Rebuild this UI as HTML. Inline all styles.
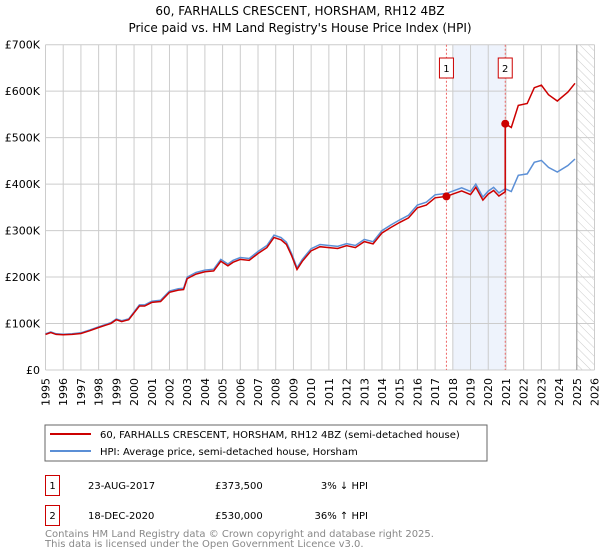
<!DOCTYPE html>
<html><head><meta charset="utf-8"><style>
body{margin:0;background:#fff;font-family:"DejaVu Sans","Liberation Sans",sans-serif;}
svg{display:block}
</style></head><body>
<svg id="c" width="600" height="560" xmlns="http://www.w3.org/2000/svg" font-family="DejaVu Sans, Liberation Sans, sans-serif">
<text x="300" y="15" text-anchor="middle" font-size="12">60, FARHALLS CRESCENT, HORSHAM, RH12 4BZ</text>
<text x="300" y="32" text-anchor="middle" font-size="12">Price paid vs. HM Land Registry's House Price Index (HPI)</text>
<defs><pattern id="hatch" width="6" height="6" patternUnits="userSpaceOnUse" patternTransform="rotate(-45)"><line x1="0" y1="0" x2="0" y2="6" stroke="#ccc" stroke-width="1"/></pattern></defs>
<g id="plot"></g>
<rect x="45" y="425" width="442" height="36" fill="#fff" stroke="#666"/>
<line x1="50" y1="434" x2="91" y2="434" stroke="#cc0000" stroke-width="2"/>
<text x="100" y="438" font-size="10">60, FARHALLS CRESCENT, HORSHAM, RH12 4BZ (semi-detached house)</text>
<line x1="50" y1="451" x2="91" y2="451" stroke="#5b8fd6" stroke-width="2"/>
<text x="100" y="455" font-size="10">HPI: Average price, semi-detached house, Horsham</text>
<rect x="45.5" y="475.5" width="14" height="20" fill="#fff" stroke="#cc0000"/>
<text x="52.5" y="489" font-size="10" text-anchor="middle">1</text>
<text x="88" y="489" font-size="10">23-AUG-2017</text>
<text x="215" y="489" font-size="10">£373,500</text>
<text x="368" y="489" font-size="10" text-anchor="end">3% ↓ HPI</text>
<rect x="45.5" y="505.5" width="14" height="20" fill="#fff" stroke="#cc0000"/>
<text x="52.5" y="519" font-size="10" text-anchor="middle">2</text>
<text x="88" y="519" font-size="10">18-DEC-2020</text>
<text x="215" y="519" font-size="10">£530,000</text>
<text x="368" y="519" font-size="10" text-anchor="end">36% ↑ HPI</text>
<text x="45" y="537" font-size="10" fill="#888">Contains HM Land Registry data © Crown copyright and database right 2025.</text>
<text x="45" y="547" font-size="10" fill="#888">This data is licensed under the Open Government Licence v3.0.</text>
</svg>
<script>
const hpiYears=[1995.0,1995.3,1995.6,1996.0,1996.5,1997.0,1997.5,1998.0,1998.4,1998.7,1999.0,1999.3,1999.7,2000.0,2000.3,2000.6,2001.0,2001.5,2002.0,2002.5,2002.8,2003.0,2003.5,2004.0,2004.5,2004.9,2005.3,2005.6,2006.0,2006.5,2007.0,2007.5,2007.9,2008.3,2008.6,2008.9,2009.2,2009.5,2010.0,2010.5,2011.0,2011.5,2012.0,2012.5,2013.0,2013.5,2014.0,2014.5,2015.0,2015.5,2016.0,2016.5,2017.0,2017.65,2018.0,2018.5,2019.0,2019.3,2019.7,2020.0,2020.3,2020.6,2020.96,2021.3,2021.7,2022.2,2022.6,2023.0,2023.4,2023.9,2024.5,2024.9];
const hpiValues=[78,82,78,77,78,80,86,93,98,102,110,106,110,125,140,140,148,150,170,175,176,200,210,215,217,238,228,236,242,240,255,268,290,285,275,250,220,238,261,270,268,266,272,268,281,276,300,312,323,333,355,361,377,380,385,392,384,400,372,385,393,381,390,384,419,422,447,451,436,426,440,454];
const sales=[{t:2017.64,v:373.5},{t:2020.96,v:530}];
const yTicks=[0,100,200,300,400,500,600,700];
const yLabels=["£0","£100K","£200K","£300K","£400K","£500K","£600K","£700K"];
const xYears=[1995,1996,1997,1998,1999,2000,2001,2002,2003,2004,2005,2006,2007,2008,2009,2010,2011,2012,2013,2014,2015,2016,2017,2018,2019,2020,2021,2022,2023,2024,2025,2026];
const X0=45.5,X1=594.5,Y0=370,Y1=44.7;
const xs=t=>X0+(t-1995)/(2026-1995)*(X1-X0);
const ys=v=>Y0-v/700*(Y0-Y1);
const NS="http://www.w3.org/2000/svg";
const g=document.getElementById('plot');
function mk(tag,attrs,parent){const e=document.createElementNS(NS,tag);for(const k in attrs)e.setAttribute(k,attrs[k]);(parent||g).appendChild(e);return e;}
function hpiAt(t){for(let i=0;i<hpiYears.length-1;i++){if(t>=hpiYears[i]&&t<=hpiYears[i+1]){const f=(t-hpiYears[i])/(hpiYears[i+1]-hpiYears[i]);return hpiValues[i]+f*(hpiValues[i+1]-hpiValues[i]);}}return hpiValues[hpiValues.length-1];}
// shading & hatch
let r=mk('rect',{x:xs(2018.0),y:Y1,width:xs(sales[1].t)-xs(2018.0),height:Y0-Y1,fill:'#eef3fc'});


r=mk('rect',{x:xs(2025.0),y:Y1,width:X1-xs(2025.0),height:Y0-Y1,fill:'url(#hatch)'});


// grid
yTicks.forEach((v,i)=>{const l=mk('line',{x1:X0,x2:X1,y1:ys(v),y2:ys(v),stroke:'#ccc'});


const t=mk('text',{x:40,y:ys(v)+4,'text-anchor':'end','font-size':'11'});t.textContent=yLabels[i];

});
xYears.forEach(yr=>{const l=mk('line',{x1:xs(yr),x2:xs(yr),y1:Y1,y2:Y0,stroke:'#ccc'});


const t=mk('text',{x:0,y:0,'text-anchor':'end','font-size':'11',transform:`translate(${xs(yr)+4},378) rotate(-90)`});t.textContent=yr;

});
let v=mk('line',{x1:xs(2025.0),x2:xs(2025.0),y1:Y1,y2:Y0,stroke:'#999'});


sales.forEach((s,i)=>{const l=mk('line',{x1:xs(s.t),x2:xs(s.t),y1:Y1,y2:Y0,stroke:'#e66','stroke-dasharray':'2,2'});


const b=mk('rect',{x:xs(s.t)-7,y:58,width:14,height:20,fill:'#fff',stroke:'#cc0000'});


const t=mk('text',{x:xs(s.t),y:72,'text-anchor':'middle','font-size':'10'});t.textContent=i+1;});
// hpi line
let d='';hpiYears.forEach((t,i)=>{d+=(i?'L':'M')+xs(t).toFixed(1)+','+ys(hpiValues[i]).toFixed(1);});
let p=mk('path',{d:d,fill:'none',stroke:'#5b8fd6','stroke-width':'1.5'});


// property line
const f1=sales[0].v/hpiAt(sales[0].t),f2=sales[1].v/hpiAt(sales[1].t);
let pts=[];hpiYears.forEach((t,i)=>{if(t<sales[1].t)pts.push([t,hpiValues[i]*f1]);});
pts.push([sales[1].t,hpiAt(sales[1].t)*f1]);pts.push([sales[1].t,sales[1].v]);
hpiYears.forEach((t,i)=>{if(t>sales[1].t)pts.push([t,hpiValues[i]*f2]);});
d='';pts.forEach((q,i)=>{d+=(i?'L':'M')+xs(q[0]).toFixed(1)+','+ys(q[1]).toFixed(1);});
p=mk('path',{d:d,fill:'none',stroke:'#cc0000','stroke-width':'1.5'});


sales.forEach(s=>{const c=mk('circle',{cx:xs(s.t),cy:ys(s.v),r:4,fill:'#cc0000'});

});
</script>
</body></html>
